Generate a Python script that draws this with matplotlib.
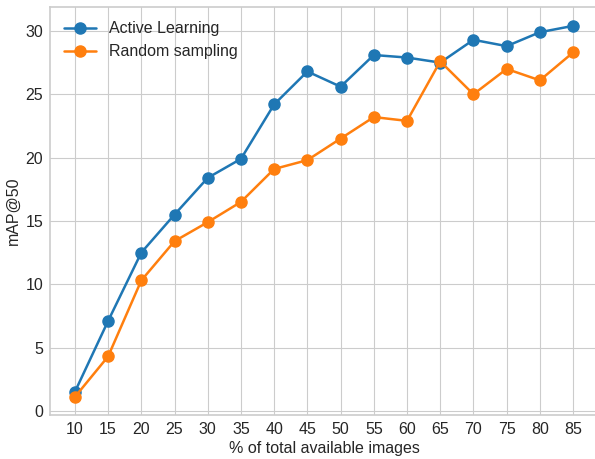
import matplotlib
matplotlib.use("Agg")
import matplotlib.pyplot as plt

# share of the pool that was labelled (%) and detection score at each step
percent = [10, 15, 20, 25, 30, 35, 40, 45, 50, 55, 60, 65, 70, 75, 80, 85]
active_map = [1.5, 7.1, 12.5, 15.5, 18.4, 19.9, 24.2, 26.8, 25.6, 28.1, 27.9, 27.5, 29.3, 28.8, 29.9, 30.4]
random_map = [1.1, 4.3, 10.3, 13.4, 14.9, 16.5, 19.1, 19.8, 21.5, 23.2, 22.9, 27.6, 25.0, 27.0, 26.1, 28.3]

plt.style.use("seaborn-v0_8-whitegrid")
plt.rcParams["font.family"] = ["Liberation Sans", "DejaVu Sans"]

fig, ax = plt.subplots(figsize=(5.95, 4.59), dpi=100)
xs = list(range(len(percent)))
ax.plot(xs, active_map, marker="o", markersize=8, linewidth=1.8, color="#1f77b4", label="Active Learning")
ax.plot(xs, random_map, marker="o", markersize=8, linewidth=1.8, color="#ff7f0e", label="Random sampling")

ax.set_xticks(xs)
ax.set_xticklabels([str(p) for p in percent])
ax.set_xlim(-0.75, len(percent) - 0.25)
ax.set_ylim(-0.32, 31.9)
ax.tick_params(labelsize=11.5, pad=5)
ax.set_xlabel("% of total available images", fontsize=11.5, labelpad=3)
ax.set_ylabel("mAP@50", fontsize=11.5, labelpad=3)
for s in ax.spines.values():
    s.set_visible(True)
    s.set_color("#cccccc")
    s.set_linewidth(1.2)
ax.legend(loc="upper left", fontsize=11.5, frameon=False)

fig.subplots_adjust(left=0.084, right=1.005, top=0.985, bottom=0.096)
fig.savefig("out.png", dpi=100)
